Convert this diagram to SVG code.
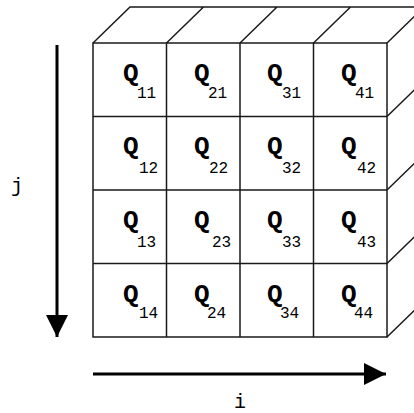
<svg xmlns="http://www.w3.org/2000/svg" width="414" height="413" viewBox="0 0 414 413">
<defs>
<style>
.g{stroke:#1a1a1a;stroke-width:1.5;fill:none}
.q{font-family:"Liberation Mono",monospace;font-size:26px;font-weight:bold;fill:#000}
.s{font-family:"Liberation Mono",monospace;font-size:16px;fill:#000}
.ax{stroke:#000;stroke-width:3;fill:none}
.lb{font-family:"Liberation Mono",monospace;font-size:20px;fill:#000}
</style>
<marker id="ah" markerUnits="userSpaceOnUse" markerWidth="24" markerHeight="22" refX="22" refY="11" orient="auto">
<path d="M0,0 L22,11 L0,22 Z" fill="#000"/>
</marker>
</defs>
<rect width="414" height="413" fill="#fff"/>
<g id="cube" class="g">
<rect x="93" y="43" width="294" height="294"/>
<path d="M166.5,43V337M240,43V337M313.5,43V337M93,116.5H387M93,190H387M93,263.5H387"/>
<path d="M93,43L130,7H424M166.5,43L203.5,7M240,43L277,7M313.5,43L350.5,7M387,43L424,7"/>
<path d="M387,116.5L424,80.5M387,190L424,154M387,263.5L424,227.5M387,337L424,301"/>
</g>
<g id="cells">
<g id="q11"><text class="q" x="123" y="81">Q</text><text class="s" x="137" y="98">11</text></g>
<g id="q21"><text class="q" x="194" y="81">Q</text><text class="s" x="208" y="98">21</text></g>
<g id="q31"><text class="q" x="267" y="81">Q</text><text class="s" x="282" y="98">31</text></g>
<g id="q41"><text class="q" x="341" y="81">Q</text><text class="s" x="355" y="98">41</text></g>
<g id="q12"><text class="q" x="123" y="154">Q</text><text class="s" x="139" y="173">12</text></g>
<g id="q22"><text class="q" x="194" y="154">Q</text><text class="s" x="209" y="173">22</text></g>
<g id="q32"><text class="q" x="267" y="154">Q</text><text class="s" x="282" y="173">32</text></g>
<g id="q42"><text class="q" x="341" y="154">Q</text><text class="s" x="357" y="173">42</text></g>
<g id="q13"><text class="q" x="123" y="228">Q</text><text class="s" x="137" y="247">13</text></g>
<g id="q23"><text class="q" x="194" y="228">Q</text><text class="s" x="212" y="247">23</text></g>
<g id="q33"><text class="q" x="267" y="228">Q</text><text class="s" x="282" y="247">33</text></g>
<g id="q43"><text class="q" x="341" y="228">Q</text><text class="s" x="357" y="247">43</text></g>
<g id="q14"><text class="q" x="123" y="302">Q</text><text class="s" x="139" y="318">14</text></g>
<g id="q24"><text class="q" x="194" y="302">Q</text><text class="s" x="207" y="318">24</text></g>
<g id="q34"><text class="q" x="267" y="302">Q</text><text class="s" x="280" y="318">34</text></g>
<g id="q44"><text class="q" x="341" y="302">Q</text><text class="s" x="354" y="318">44</text></g>
</g>
<g id="connectors">
<line class="ax" x1="57" y1="45" x2="57" y2="337" marker-end="url(#ah)"/>
<line class="ax" x1="93" y1="374" x2="386" y2="374" marker-end="url(#ah)"/>
</g>
<text class="lb" x="11" y="192">j</text>
<text class="lb" x="234" y="408">i</text>
</svg>
